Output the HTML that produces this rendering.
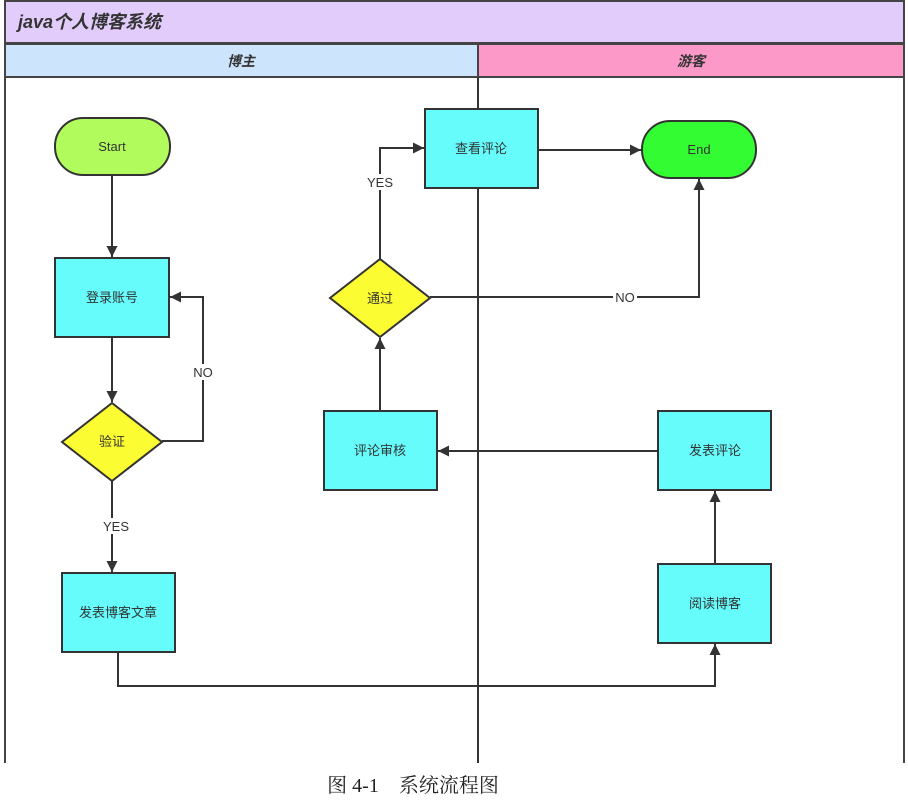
<!DOCTYPE html>
<html><head><meta charset="utf-8"><style>
body{margin:0;background:#fff;width:908px;height:797px;overflow:hidden}
svg text{font-family:"Liberation Sans","Noto Sans CJK SC",sans-serif}
</style></head><body>
<svg width="908" height="797" viewBox="0 0 908 797" xmlns="http://www.w3.org/2000/svg">
<defs><marker id="a" viewBox="0 0 10 10" refX="10" refY="5" markerWidth="11" markerHeight="11" markerUnits="userSpaceOnUse" orient="auto"><path d="M0,0 L10,5 L0,10 z" fill="#333"/></marker></defs>
<rect x="5" y="1" width="899" height="42" fill="#e2ccfc" stroke="#444" stroke-width="2"/>
<text x="18" y="28" font-size="18" font-style="italic" font-weight="bold" fill="#333">java个人博客系统</text>
<rect x="5" y="44" width="473" height="33" fill="#cce4fc" stroke="#444" stroke-width="2"/>
<rect x="478" y="44" width="426" height="33" fill="#fc99c8" stroke="#444" stroke-width="2"/>
<text x="241" y="66" font-size="14" font-style="italic" font-weight="bold" fill="#333" text-anchor="middle">博主</text>
<text x="691" y="66" font-size="14" font-style="italic" font-weight="bold" fill="#333" text-anchor="middle">游客</text>
<line x1="5" y1="77" x2="5" y2="763" stroke="#444" stroke-width="2"/>
<line x1="904" y1="77" x2="904" y2="763" stroke="#444" stroke-width="2"/>
<line x1="478" y1="77" x2="478" y2="763" stroke="#333" stroke-width="2"/>
<g stroke="#333" stroke-width="2" fill="none" marker-end="url(#a)">
<path d="M112 175 V257"/>
<path d="M112 337 V402"/>
<path d="M162 441 H203 V297 H170"/>
<path d="M112 480 V572"/>
<path d="M118 652 V686 H715 V644"/>
<path d="M715 564 V491"/>
<path d="M658 451 H438"/>
<path d="M380 411 V338"/>
<path d="M380 260 V148 H424"/>
<path d="M430 297 H699 V179"/>
<path d="M538 150 H641"/>
</g>
<g stroke="#333" stroke-width="2">
<rect x="55" y="118" width="115" height="57" rx="28" fill="#b1fc5c"/>
<rect x="425" y="109" width="113" height="79" fill="#66fcfc"/>
<rect x="642" y="121" width="114" height="57" rx="28" fill="#33fc33"/>
<rect x="55" y="258" width="114" height="79" fill="#66fcfc"/>
<path d="M380 259 L430 298 L380 337 L330 298 Z" fill="#fcfc33"/>
<path d="M112 403 L162 442 L112 481 L62 442 Z" fill="#fcfc33"/>
<rect x="324" y="411" width="113" height="79" fill="#66fcfc"/>
<rect x="658" y="411" width="113" height="79" fill="#66fcfc"/>
<rect x="62" y="573" width="113" height="79" fill="#66fcfc"/>
<rect x="658" y="564" width="113" height="79" fill="#66fcfc"/>
</g>
<g font-size="13" fill="#333" text-anchor="middle">
<text x="112" y="151">Start</text>
<text x="481" y="153">查看评论</text>
<text x="699" y="154">End</text>
<text x="112" y="302">登录账号</text>
<text x="380" y="303">通过</text>
<text x="112" y="446">验证</text>
<text x="380" y="455">评论审核</text>
<text x="715" y="455">发表评论</text>
<text x="118" y="617">发表博客文章</text>
<text x="715" y="608">阅读博客</text>
</g>
<g font-size="13" fill="#333" text-anchor="middle">
<rect x="192" y="364" width="22" height="16" fill="#fff"/><text x="203" y="377">NO</text>
<rect x="100" y="518" width="32" height="16" fill="#fff"/><text x="116" y="531">YES</text>
<rect x="364" y="174" width="32" height="16" fill="#fff"/><text x="380" y="187">YES</text>
<rect x="613" y="289" width="24" height="16" fill="#fff"/><text x="625" y="302">NO</text>
</g>
<rect x="0" y="764" width="908" height="33" fill="#fff"/>
<text x="413" y="792" font-size="20" fill="#222" text-anchor="middle" style='font-family:"Liberation Serif","Noto Serif CJK SC",serif'>图 4-1　系统流程图</text>
</svg>
</body></html>
